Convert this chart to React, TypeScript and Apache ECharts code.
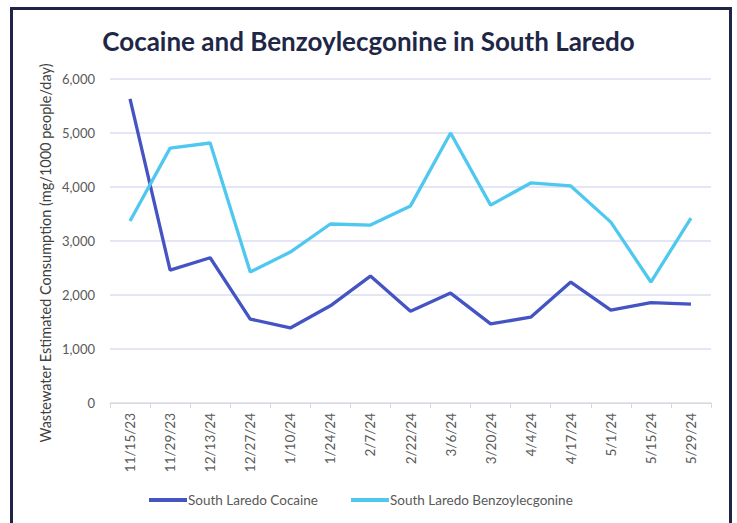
import React, { useEffect, useRef } from "react";
import * as echarts from "echarts";

const categories = ["11/15/23", "11/29/23", "12/13/24", "12/27/24", "1/10/24", "1/24/24", "2/7/24", "2/22/24", "3/6/24", "3/20/24", "4/4/24", "4/17/24", "5/1/24", "5/15/24", "5/29/24"];
const cocaine = [5630, 2460, 2690, 1555, 1390, 1800, 2350, 1700, 2035, 1465, 1590, 2240, 1720, 1860, 1830];
const benzoylecgonine = [3370, 4720, 4815, 2425, 2795, 3315, 3295, 3650, 5000, 3665, 4075, 4020, 3350, 2240, 3425];
const seriesNames = ["South Laredo Cocaine", "South Laredo Benzoylecgonine"];
const yAxisTitle = "Wastewater Estimated Consumption (mg/1000 people/day)";

export default function App() {
  const ref = useRef<HTMLDivElement>(null);
  useEffect(() => {
    if (!ref.current) return;
    const chart = echarts.init(ref.current, null, { renderer: "svg" });
    const font = "Lato, 'Open Sans', sans-serif";
    chart.setOption({
      animation: false,
      backgroundColor: "#ffffff",
      title: {
        text: "Cocaine and Benzoylecgonine in South Laredo",
        left: "center",
        top: 23,
        textStyle: { fontFamily: font, fontSize: 26, fontWeight: "bold", color: "#1F2747" },
      },
      graphic: [
        {
          type: "text",
          x: 45,
          y: 253,
          rotation: Math.PI / 2,
          style: {
            text: yAxisTitle,
            fontFamily: font,
            fontSize: 14.5,
            fill: "#404040",
            align: "center",
            verticalAlign: "middle",
          },
        },
      ],
      grid: { left: 110, right: 26, top: 79, bottom: 120, containLabel: false },
      legend: {
        top: 488,
        left: 144,
        icon: "rect",
        itemWidth: 38,
        itemHeight: 4,
        itemGap: 33,
        textStyle: { fontFamily: font, fontSize: 13.5, color: "#595959", padding: [0, 0, 0, -4] },
        data: seriesNames,
      },
      xAxis: {
        type: "category",
        data: categories,
        boundaryGap: true,
        axisLine: { lineStyle: { color: "#D9D9D9", width: 1 } },
        axisTick: { show: true, length: 5, lineStyle: { color: "#D9D9D9" } },
        axisLabel: { rotate: 90, margin: 10, fontFamily: font, fontSize: 13.5, color: "#595959", interval: 0 },
      },
      yAxis: {
        type: "value",
        min: 0,
        max: 6000,
        interval: 1000,
        axisLine: { show: false },
        axisTick: { show: false },
        splitLine: { lineStyle: { color: "#DCDEF2", width: 1.5 } },
        axisLabel: {
          margin: 15,
          fontFamily: font,
          fontSize: 13,
          color: "#595959",
          formatter: (v: number) => v.toLocaleString("en-US"),
        },
      },
      series: [
        {
          name: seriesNames[0],
          type: "line",
          data: cocaine,
          showSymbol: false,
          symbol: "none",
          lineStyle: { color: "#4454C3", width: 3.3 },
          itemStyle: { color: "#4454C3" },
        },
        {
          name: seriesNames[1],
          type: "line",
          data: benzoylecgonine,
          showSymbol: false,
          symbol: "none",
          lineStyle: { color: "#4FC8EF", width: 3.3 },
          itemStyle: { color: "#4FC8EF" },
        },
      ],
    });
    return () => chart.dispose();
  }, []);
  return (
    <div style={{ position: "absolute", left: 0, top: 0, width: 737, height: 523, overflow: "hidden", background: "#fff" }}>
      <div ref={ref} style={{ position: "absolute", left: 0, top: 0, width: 737, height: 523 }} />
      <div
        style={{
          position: "absolute",
          left: 10,
          top: 7,
          width: 716,
          height: 540,
          border: "3.5px solid #1F2548",
          pointerEvents: "none",
        }}
      />
    </div>
  );
}
